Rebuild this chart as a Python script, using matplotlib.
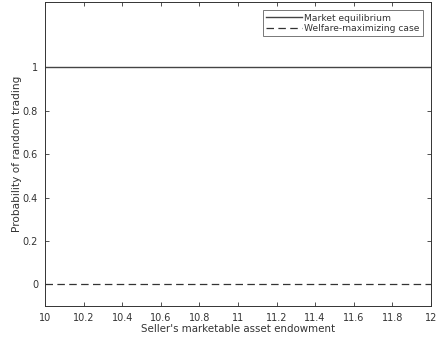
import numpy as np
import matplotlib
matplotlib.use("Agg")
import matplotlib.pyplot as plt

plt.rcParams['font.family'] = ['DejaVu Sans']

# endowment grid and the two probability curves
endowment = [10.0, 10.5, 11.0, 11.5, 12.0]
p_market = [1, 1, 1, 1, 1]
p_welfare = [0, 0, 0, 0, 0]

x_ticks = [10, 10.2, 10.4, 10.6, 10.8, 11, 11.2, 11.4, 11.6, 11.8, 12]
y_ticks = [0, 0.2, 0.4, 0.6, 0.8, 1]

fig = plt.figure(figsize=(4.37, 3.49), dpi=100)
ax = fig.add_axes([0.103, 0.123, 0.883, 0.871])

ax.plot(endowment, p_market, color="#444444", linewidth=1.0, label="Market equilibrium")
ax.plot(endowment, p_welfare, color="#333333", linewidth=0.9, linestyle=(0, (6, 3.5)),
        label="Welfare-maximizing case")

ax.set_xlim(10, 12)
ax.set_ylim(-0.1, 1.3)
ax.set_xticks(x_ticks)
ax.set_xticklabels([f"{t:g}" for t in x_ticks])
ax.set_yticks(y_ticks)
ax.set_yticklabels([f"{t:g}" for t in y_ticks])
ax.tick_params(direction="in", top=True, right=True, length=3, width=0.6,
               labelsize=7, colors="#333333", pad=5)
for s in ax.spines.values():
    s.set_linewidth(0.7)
    s.set_color("#333333")

ax.set_xlabel("Seller's marketable asset endowment", fontsize=7.4, labelpad=1,
              color="#333333")
ax.set_ylabel("Probability of random trading", fontsize=7.6, labelpad=0.5,
              color="#333333")

leg = ax.legend(loc="upper right", fontsize=6.6, frameon=True, fancybox=False,
                edgecolor="#555555", borderpad=0.35, handlelength=3.9,
                labelspacing=0.15, handletextpad=0.2, borderaxespad=0.9)
leg.get_frame().set_linewidth(0.7)
for t in leg.get_texts():
    t.set_color("#333333")

fig.savefig("out.png", dpi=100)
